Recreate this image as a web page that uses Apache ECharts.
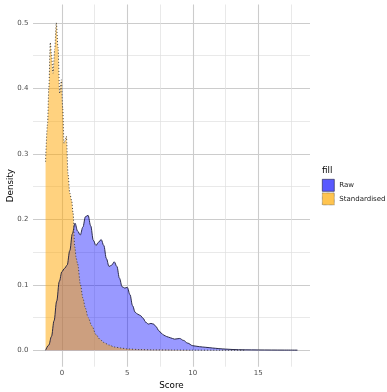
<!DOCTYPE html>
<html>
<head>
<meta charset="UTF-8">
<title>Density</title>
<style>
  html, body { margin: 0; padding: 0; background: #fff; }
  #main { width: 387px; height: 392px; }
</style>
</head>
<body>
<div id="main"></div>
<script src="https://cdn.jsdelivr.net/npm/echarts@6/dist/echarts.min.js"></script>
<script>
// values
var rawX = [-1.25, -1.0, -0.8, -0.6, -0.4, -0.2, 0.0, 0.2, 0.4, 0.6, 0.8, 1.0, 1.2, 1.4, 1.6, 1.8, 2.0, 2.2, 2.4, 2.6, 2.8, 3.0, 3.2, 3.4, 3.6, 3.8, 4.0, 4.2, 4.4, 4.6, 4.8, 5.0, 5.2, 5.4, 5.6, 5.8, 6.0, 6.2, 6.4, 6.6, 6.8, 7.0, 7.2, 7.4, 7.6, 7.8, 8.0, 8.3, 8.6, 9.0, 9.3, 9.6, 10.0, 10.5, 11.0, 11.5, 12.0, 12.5, 13.0, 13.5, 14.0, 15.0, 16.0, 17.0, 18.0];
var rawY = [0.0, 0.008, 0.021, 0.045, 0.075, 0.105, 0.12, 0.125, 0.13, 0.152, 0.178, 0.194, 0.182, 0.176, 0.188, 0.204, 0.206, 0.19, 0.168, 0.16, 0.165, 0.169, 0.16, 0.14, 0.128, 0.13, 0.135, 0.128, 0.11, 0.097, 0.095, 0.096, 0.085, 0.068, 0.058, 0.055, 0.053, 0.049, 0.043, 0.040, 0.041, 0.040, 0.036, 0.030, 0.026, 0.023, 0.021, 0.019, 0.017, 0.018, 0.015, 0.011, 0.007, 0.0055, 0.0045, 0.0035, 0.0025, 0.0018, 0.0012, 0.0009, 0.0007, 0.0005, 0.0004, 0.0003, 0.0002];

var stdX = [-1.25, -1.1, -1.0, -0.89, -0.8, -0.68, -0.55, -0.43, -0.3, -0.17, -0.04, 0.06, 0.16, 0.25, 0.34, 0.47, 0.6, 0.75, 0.85, 0.98, 1.1, 1.2, 1.42, 1.6, 1.8, 2.0, 2.3, 2.6, 2.9, 3.2, 3.6, 4.0, 4.5, 5.0, 6.0, 7.0, 8.5, 10.0, 12.0, 14.0];
var stdY = [0.288, 0.345, 0.4, 0.47, 0.452, 0.423, 0.46, 0.5, 0.463, 0.392, 0.413, 0.37, 0.316, 0.32, 0.327, 0.268, 0.24, 0.228, 0.21, 0.158, 0.14, 0.132, 0.1, 0.08, 0.064, 0.05, 0.037, 0.024, 0.017, 0.012, 0.008, 0.005, 0.0035, 0.002, 0.001, 0.0006, 0.0004, 0.0002, 0.0001, 0.00005];

var xTicks = [0, 5, 10, 15];
var xMinor = [2.5, 7.5, 12.5, 17.5];
var yTicks = [0, 0.1, 0.2, 0.3, 0.4, 0.5];
var yMinor = [0.05, 0.15, 0.25, 0.35, 0.45];

function pairs(xs, ys) {
  var out = [];
  for (var i = 0; i < xs.length; i++) out.push([xs[i], ys[i]]);
  return out;
}

var font = 'DejaVu Sans';
var major = { show: true, lineStyle: { color: '#cccccc', width: 1.1 } };
var minor = { show: true, lineStyle: { color: '#e0e0e0', width: 0.7 } };

var myChart = echarts.init(document.getElementById('main'));

var option = {
  animation: false,
  backgroundColor: '#ffffff',
  title: {
    text: 'fill',
    left: 322, top: 166,
    padding: 0,
    textStyle: { fontFamily: font, fontSize: 8.75, fontWeight: 'normal', color: '#000' }
  },
  legend: {
    orient: 'vertical',
    left: 322, top: 179,
    padding: 0,
    itemWidth: 12, itemHeight: 12, itemGap: 1,
    icon: 'rect',
    textStyle: { fontFamily: font, fontSize: 7, color: '#1a1a1a' },
    data: [
      { name: 'Raw', itemStyle: { color: 'rgba(60,60,255,0.85)', borderColor: '#1a1a3a', borderWidth: 0.6 } },
      { name: 'Standardised', itemStyle: { color: 'rgba(255,190,60,0.9)', borderColor: '#333', borderWidth: 0.6, borderType: 'dotted' } }
    ]
  },
  grid: { left: 33, right: 77, top: 4.5, bottom: 25.3, containLabel: false, outerBoundsMode: 'none' },
  xAxis: [
    {
      type: 'value', min: -2.21, max: 18.96,
      name: 'Score', nameLocation: 'middle', nameGap: 15, nameMoveOverlap: false,
      nameTextStyle: { fontFamily: font, fontSize: 8.75, color: '#000' },
      axisLine: { show: false },
      axisTick: { show: false, customValues: xTicks },
      axisLabel: { customValues: xTicks, margin: 3, fontFamily: font, fontSize: 7, color: '#4d4d4d' },
      splitLine: major
    },
    {
      type: 'value', min: -2.21, max: 18.96, position: 'bottom',
      axisLine: { show: false },
      axisTick: { show: false, customValues: xMinor },
      axisLabel: { show: false, customValues: xMinor },
      splitLine: minor
    }
  ],
  yAxis: [
    {
      type: 'value', min: -0.0251, max: 0.528,
      name: 'Density', nameLocation: 'middle', nameGap: 18, nameMoveOverlap: false,
      nameTextStyle: { fontFamily: font, fontSize: 8.75, color: '#000' },
      axisLine: { show: false },
      axisTick: { show: false, customValues: yTicks },
      axisLabel: {
        customValues: yTicks, margin: 4.5, fontFamily: font, fontSize: 7, color: '#4d4d4d',
        formatter: function (v) { return v.toFixed(1); }
      },
      splitLine: major
    },
    {
      type: 'value', min: -0.0251, max: 0.528, position: 'left',
      axisLine: { show: false },
      axisTick: { show: false, customValues: yMinor },
      axisLabel: { show: false, customValues: yMinor },
      splitLine: minor
    }
  ],
  series: [
    {
      name: 'Raw', type: 'line',
      xAxisIndex: 0, yAxisIndex: 0,
      data: pairs(rawX, rawY),
      showSymbol: false, symbol: 'none',
      smooth: 0.35, smoothMonotone: 'x',
      lineStyle: { color: '#1a1a3a', width: 0.9 },
      itemStyle: { color: 'rgba(0,0,255,0.4)' },
      areaStyle: { color: 'rgba(0,0,255,0.4)', opacity: 1 }
    },
    {
      name: 'Standardised', type: 'line',
      xAxisIndex: 0, yAxisIndex: 0,
      data: pairs(stdX, stdY),
      showSymbol: false, symbol: 'none',
      smooth: 0.3, smoothMonotone: 'x',
      lineStyle: { color: '#333333', width: 0.9, type: [1, 2] },
      itemStyle: { color: 'rgba(255,165,0,0.5)' },
      areaStyle: { color: 'rgba(255,165,0,0.5)', opacity: 1 }
    }
  ]
};

myChart.setOption(option);
</script>
</body>
</html>
